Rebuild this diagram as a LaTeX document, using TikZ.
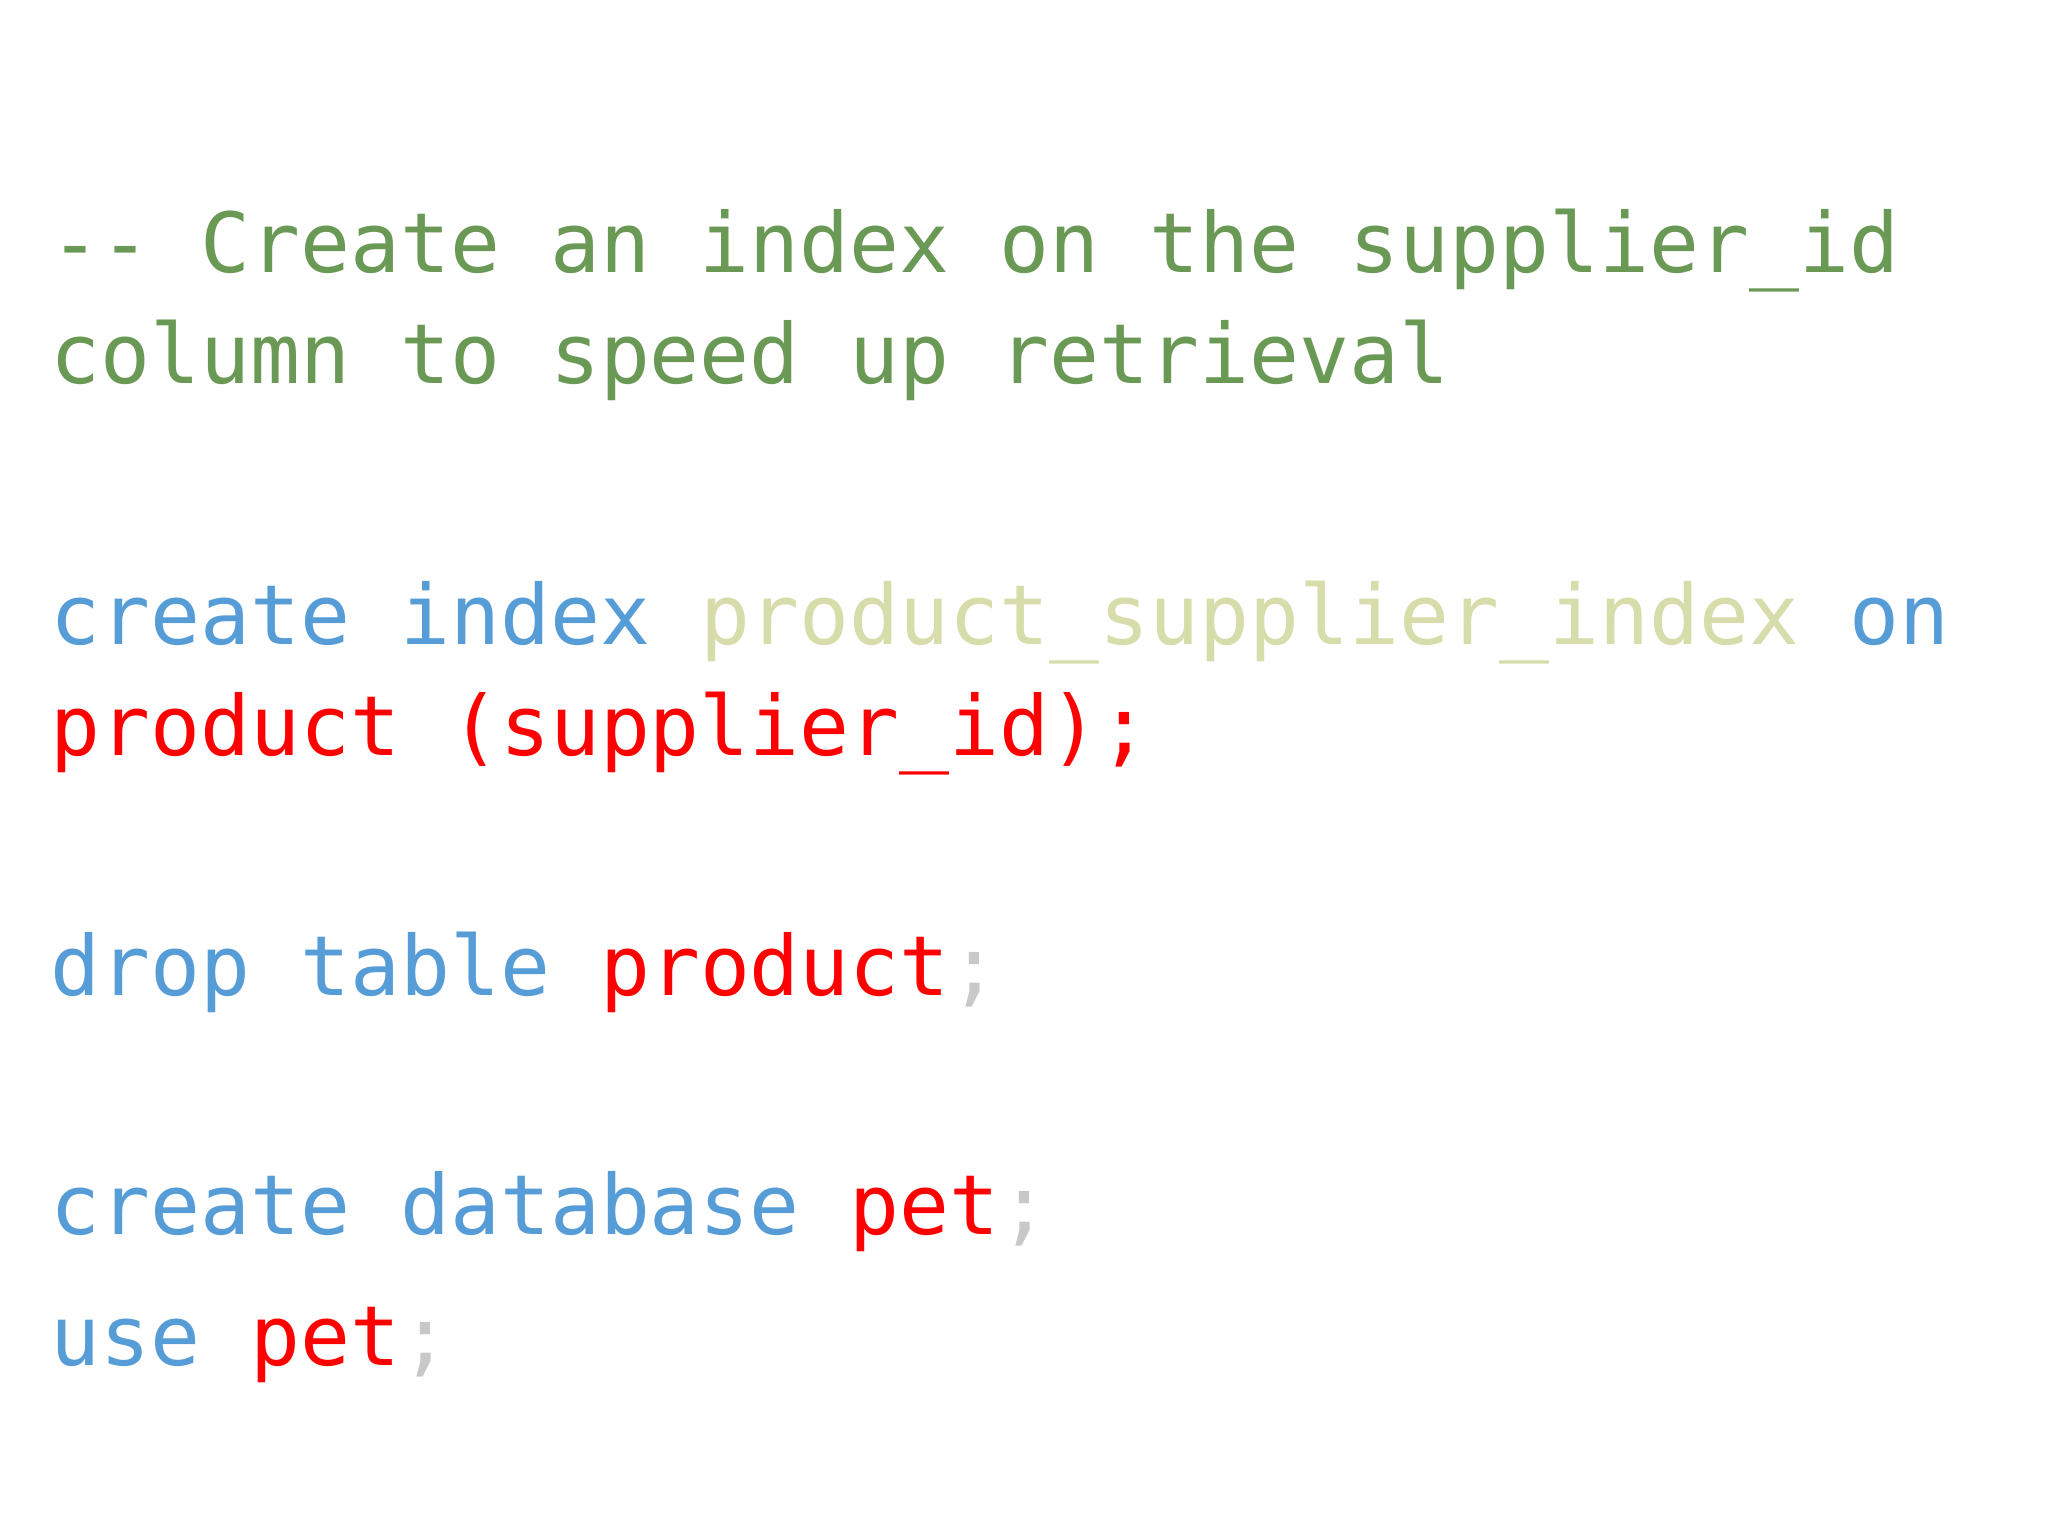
\documentclass[tikz,border=0pt]{standalone}
\usepackage{fontspec}
\setmonofont{DejaVu Sans Mono}
\definecolor{cgreen}{HTML}{6A9955}
\definecolor{cblue}{HTML}{569CD6}
\definecolor{cpale}{HTML}{D7DDAA}
\definecolor{cred}{HTML}{FF0000}
\definecolor{cgrey}{HTML}{C8C8C8}
\tikzset{codeline/.style={anchor=base west,inner sep=0pt,font=\ttfamily\fontsize{41.5pt}{48pt}\selectfont}}
\begin{document}
\begin{tikzpicture}[x=1pt,y=-1pt]
\useasboundingbox[fill=white] (0,0) rectangle (1024,768);
\node[codeline] (l1) at (25,136) {\textcolor{cgreen}{-- Create an index on the supplier\_id}};
\node[codeline] (l2) at (25,191.5) {\textcolor{cgreen}{column to speed up retrieval}};
\node[codeline] (l3) at (25,322) {\textcolor{cblue}{create index} \textcolor{cpale}{product\_supplier\_index} \textcolor{cblue}{on}};
\node[codeline] (l4) at (25,377.5) {\textcolor{cred}{product (supplier\_id);}};
\node[codeline] (l5) at (25,497.5) {\textcolor{cblue}{drop table} \textcolor{cred}{product}\textcolor{cgrey}{;}};
\node[codeline] (l6) at (25,617) {\textcolor{cblue}{create database} \textcolor{cred}{pet}\textcolor{cgrey}{;}};
\node[codeline] (l7) at (25,682.5) {\textcolor{cblue}{use} \textcolor{cred}{pet}\textcolor{cgrey}{;}};
\end{tikzpicture}
\end{document}
